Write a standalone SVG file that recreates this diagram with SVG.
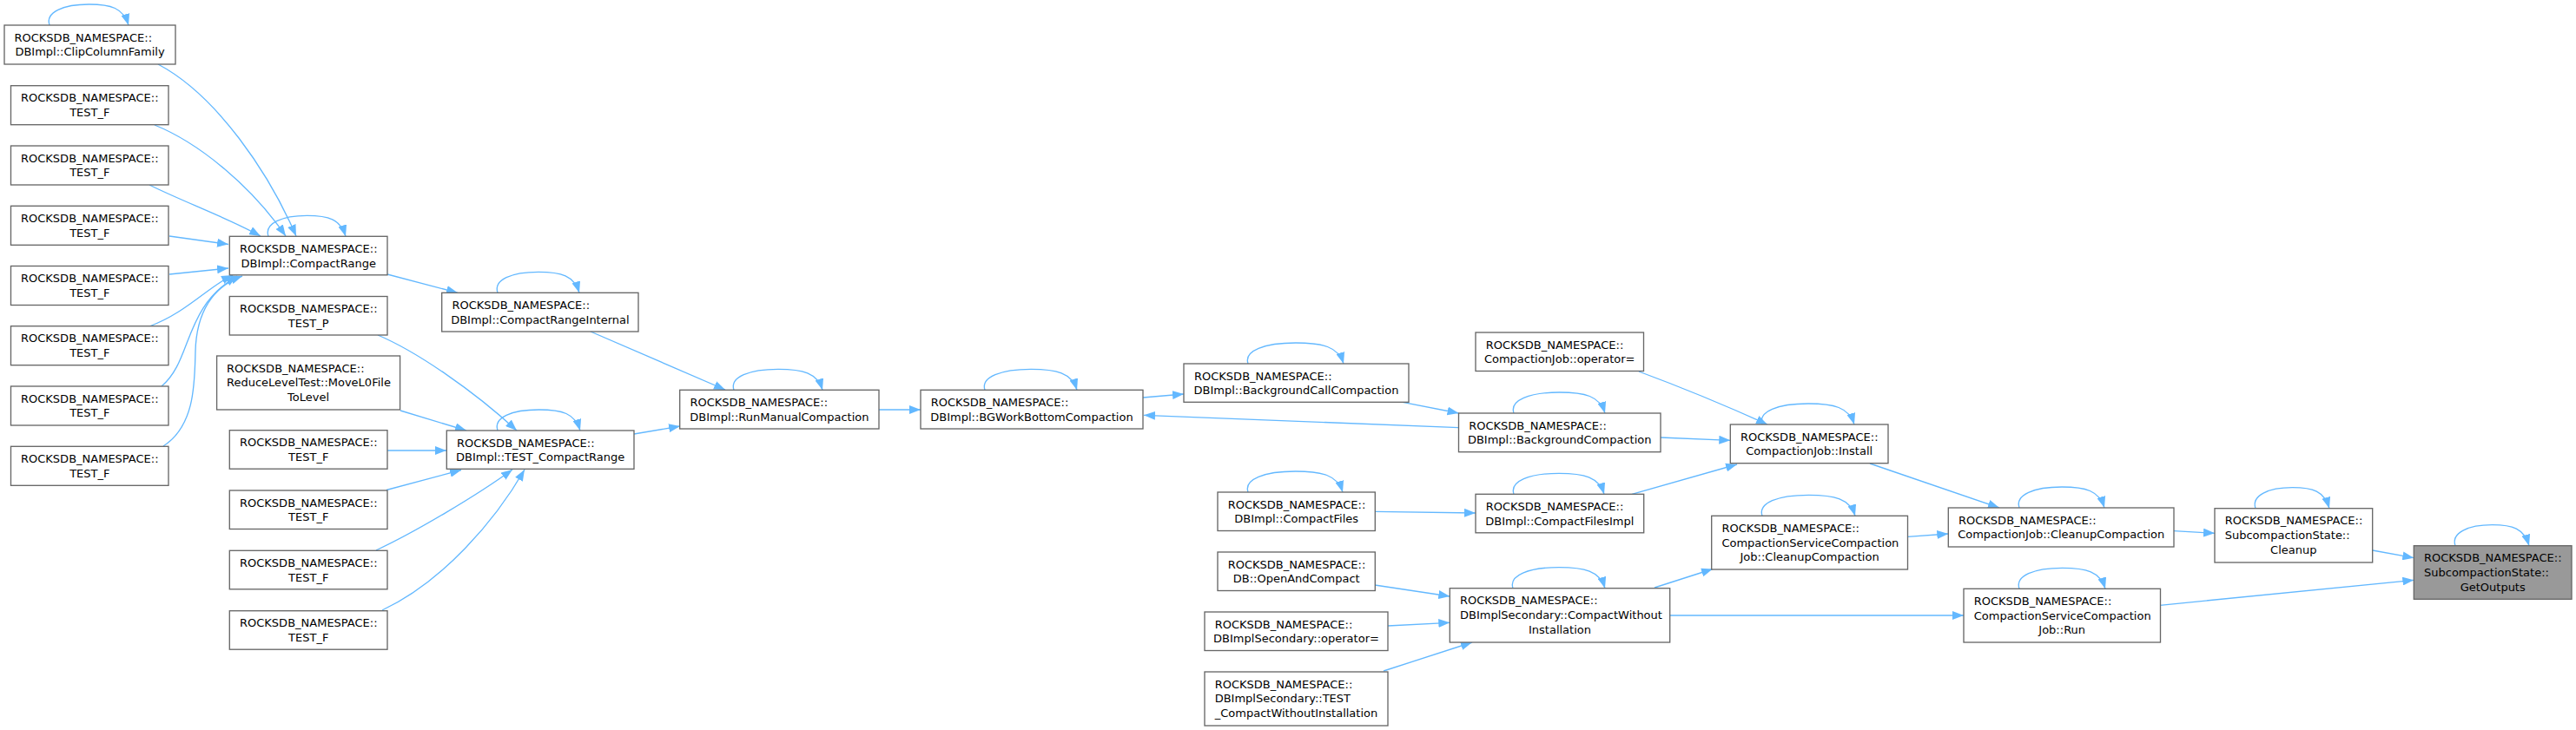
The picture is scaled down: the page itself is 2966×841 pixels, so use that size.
<svg xmlns="http://www.w3.org/2000/svg" width="2966" height="841" viewBox="0 0 2966 841">
<style>
.n rect{fill:#fff;stroke:#666;stroke-width:1.33}
.hl rect{fill:#999}
text{font-family:"DejaVu Sans","Liberation Sans",sans-serif;font-size:13px;fill:#000}
.m{text-anchor:middle}
.e path{fill:none;stroke:#63b8ff;stroke-width:1.33;marker-end:url(#a)}
</style>
<defs>
<marker id="a" markerUnits="userSpaceOnUse" markerWidth="14" markerHeight="10" refX="13" refY="5" orient="auto" viewBox="0 0 14 10"><path d="M0,0 L13,5 L0,10 z" fill="#63b8ff"/></marker>
</defs>
<rect width="2966" height="841" fill="#fff"/>
<g id="edges" class="e">
<path d="M182,74 C250,110 310,200 341,272"/>
<path d="M178,144 C230,165 290,215 329,272"/>
<path d="M172,213 C210,232 260,250 300,272"/>
<path d="M195,272 L263,281.5"/>
<path d="M195,316 L263,309"/>
<path d="M172,376 C215,360 240,330 268,317"/>
<path d="M186,445 C222,415 210,355 273,318"/>
<path d="M188,514 C225,490 224,440 225,405 C226,360 245,330 279,318"/>
<path d="M446,316 L527,337.3"/>
<path d="M680,382 L835,449"/>
<path d="M435,386 C480,405 545,450 595,496"/>
<path d="M461,473 L537,496"/>
<path d="M446,519 L514,519"/>
<path d="M445,564.5 L531,541.5"/>
<path d="M433,634 C480,612 550,570 590,541"/>
<path d="M440,703 C510,670 570,600 604,541"/>
<path d="M730,500 L783,491"/>
<path d="M1012,472 L1060,472"/>
<path d="M1316,458 L1363,454"/>
<path d="M1679.5,492.7 L1317,478.3"/>
<path d="M1615,463.3 L1679.5,476"/>
<path d="M1887,428 Q1960,455 2035,489"/>
<path d="M1912,504 L1992.3,507.3"/>
<path d="M1879,569.3 L2000,535"/>
<path d="M1583,589.3 L1699,591"/>
<path d="M1583,674 L1669.3,687"/>
<path d="M1598,721 L1669.3,717.3"/>
<path d="M1593,773 L1695,740"/>
<path d="M1905,677 L1972,655.5"/>
<path d="M1922.7,709 L2261,709"/>
<path d="M2196.5,618.3 L2243.3,615"/>
<path d="M2153,534 L2302,585"/>
<path d="M2503,611.7 L2550,614.3"/>
<path d="M2731.7,634 L2779.3,642.7"/>
<path d="M2487,697.3 L2779.3,668.3"/>
<path d="M57,29 C52,14 73,5 102.5,5 C127.5,5 142,9 148,29"/>
<path d="M309,272.3 C304,257.3 325,248.3 353.5,248.3 C378,248.3 392,252.3 398,272.3"/>
<path d="M573,337.3 C568,322.3 589,313.3 620,313.3 C646,313.3 661,317.3 667,337.3"/>
<path d="M573,496 C568,481 589,472 620.5,472 C647,472 662,476 668,496"/>
<path d="M845,449.3 C840,434.3 863,425.3 896,425.3 C924,425.3 941,429.3 947,449.3"/>
<path d="M1134,449.3 C1129,434.3 1153,425.3 1187,425.3 C1216,425.3 1234,429.3 1240,449.3"/>
<path d="M1437,419 C1432,404 1456,395 1492,395 C1522,395 1541,399 1547,419"/>
<path d="M1437,567 C1432,552 1456,543 1491.5,543 C1521.5,543 1540,547 1546,567"/>
<path d="M1743,476 C1738,461 1761,452 1795.5,452 C1824.5,452 1842,456 1848,476"/>
<path d="M1743,569.3 C1738,554.3 1761,545.3 1795,545.3 C1823.5,545.3 1841,549.3 1847,569.3"/>
<path d="M1742,677.7 C1737,662.7 1760,653.7 1795,653.7 C1824,653.7 1842,657.7 1848,677.7"/>
<path d="M2029,489 C2024,474 2047,465 2082,465 C2111,465 2129,469 2135,489"/>
<path d="M2029,594.3 C2024,579.3 2047,570.3 2082.5,570.3 C2112,570.3 2130,574.3 2136,594.3"/>
<path d="M2325,585 C2320,570 2342,561 2374,561 C2401,561 2417,565 2423,585"/>
<path d="M2325,678.3 C2320,663.3 2342,654.3 2374.5,654.3 C2402,654.3 2418,658.3 2424,678.3"/>
<path d="M2597,585.7 C2592,570.7 2612,561.7 2639.5,561.7 C2663,561.7 2676,565.7 2682,585.7"/>
<path d="M2827,628.7 C2822,613.7 2842,604.7 2869.5,604.7 C2893,604.7 2906,608.7 2912,628.7"/>
</g>
<g id="clip" class="n"><rect x="5" y="29" width="197" height="45"/><text x="16.5" y="47.7">ROCKSDB_NAMESPACE::</text><text class="m" x="103.5" y="64.3">DBImpl::ClipColumnFamily</text></g>
<g id="tf1" class="n"><rect x="12.5" y="98.7" width="181.5" height="45"/><text x="24" y="117.4">ROCKSDB_NAMESPACE::</text><text class="m" x="103.3" y="134">TEST_F</text></g>
<g id="tf2" class="n"><rect x="12.5" y="168" width="181.5" height="45"/><text x="24" y="186.7">ROCKSDB_NAMESPACE::</text><text class="m" x="103.3" y="203.3">TEST_F</text></g>
<g id="tf3" class="n"><rect x="12.5" y="237.3" width="181.5" height="45"/><text x="24" y="256">ROCKSDB_NAMESPACE::</text><text class="m" x="103.3" y="272.6">TEST_F</text></g>
<g id="tf4" class="n"><rect x="12.5" y="306.5" width="181.5" height="45"/><text x="24" y="325.2">ROCKSDB_NAMESPACE::</text><text class="m" x="103.3" y="341.8">TEST_F</text></g>
<g id="tf5" class="n"><rect x="12.5" y="375.7" width="181.5" height="45"/><text x="24" y="394.4">ROCKSDB_NAMESPACE::</text><text class="m" x="103.3" y="411">TEST_F</text></g>
<g id="tf6" class="n"><rect x="12.5" y="445" width="181.5" height="45"/><text x="24" y="463.7">ROCKSDB_NAMESPACE::</text><text class="m" x="103.3" y="480.3">TEST_F</text></g>
<g id="tf7" class="n"><rect x="12.5" y="514.3" width="181.5" height="45"/><text x="24" y="533">ROCKSDB_NAMESPACE::</text><text class="m" x="103.3" y="549.6">TEST_F</text></g>
<g id="compactrange" class="n"><rect x="264.3" y="272.3" width="181.7" height="44.5"/><text x="276" y="291">ROCKSDB_NAMESPACE::</text><text class="m" x="355.2" y="307.6">DBImpl::CompactRange</text></g>
<g id="testp" class="n"><rect x="264.3" y="341.5" width="181.7" height="44.5"/><text x="276" y="360.2">ROCKSDB_NAMESPACE::</text><text class="m" x="355.2" y="376.8">TEST_P</text></g>
<g id="reducelevel" class="n"><rect x="249.6" y="410" width="211" height="62"/><text x="261" y="428.7">ROCKSDB_NAMESPACE::</text><text x="261" y="445.3">ReduceLevelTest::MoveL0File</text><text class="m" x="355.1" y="462">ToLevel</text></g>
<g id="tfb1" class="n"><rect x="264.3" y="495.7" width="181.7" height="44.5"/><text x="276" y="514.4">ROCKSDB_NAMESPACE::</text><text class="m" x="355.2" y="531">TEST_F</text></g>
<g id="tfb2" class="n"><rect x="264.3" y="565" width="181.7" height="44.5"/><text x="276" y="583.7">ROCKSDB_NAMESPACE::</text><text class="m" x="355.2" y="600.3">TEST_F</text></g>
<g id="tfb3" class="n"><rect x="264.3" y="634.3" width="181.7" height="44.5"/><text x="276" y="653">ROCKSDB_NAMESPACE::</text><text class="m" x="355.2" y="669.6">TEST_F</text></g>
<g id="tfb4" class="n"><rect x="264.3" y="703.7" width="181.7" height="44.5"/><text x="276" y="722.4">ROCKSDB_NAMESPACE::</text><text class="m" x="355.2" y="739">TEST_F</text></g>
<g id="compactrangeinternal" class="n"><rect x="508.7" y="337.3" width="226.3" height="44.7"/><text x="520.5" y="356">ROCKSDB_NAMESPACE::</text><text class="m" x="621.9" y="372.6">DBImpl::CompactRangeInternal</text></g>
<g id="testcompactrange" class="n"><rect x="514.3" y="496" width="215.7" height="44.3"/><text x="526" y="514.7">ROCKSDB_NAMESPACE::</text><text class="m" x="622.2" y="531.3">DBImpl::TEST_CompactRange</text></g>
<g id="runmanual" class="n"><rect x="782.7" y="449.3" width="229.3" height="44.7"/><text x="794.5" y="468">ROCKSDB_NAMESPACE::</text><text class="m" x="897.4" y="484.6">DBImpl::RunManualCompaction</text></g>
<g id="bgworkbottom" class="n"><rect x="1060" y="449.3" width="256" height="44.7"/><text x="1071.7" y="468">ROCKSDB_NAMESPACE::</text><text class="m" x="1188" y="484.6">DBImpl::BGWorkBottomCompaction</text></g>
<g id="bgcall" class="n"><rect x="1363" y="419" width="259" height="44.3"/><text x="1375" y="437.7">ROCKSDB_NAMESPACE::</text><text class="m" x="1492.5" y="454.3">DBImpl::BackgroundCallCompaction</text></g>
<g id="compactfiles" class="n"><rect x="1402" y="567" width="181.3" height="44.5"/><text x="1413.7" y="585.7">ROCKSDB_NAMESPACE::</text><text class="m" x="1492.7" y="602.3">DBImpl::CompactFiles</text></g>
<g id="openandcompact" class="n"><rect x="1402" y="636" width="181.3" height="44.5"/><text x="1413.7" y="654.7">ROCKSDB_NAMESPACE::</text><text class="m" x="1492.7" y="671.3">DB::OpenAndCompact</text></g>
<g id="secop" class="n"><rect x="1387" y="705" width="211" height="44.5"/><text x="1398.7" y="723.7">ROCKSDB_NAMESPACE::</text><text class="m" x="1492.5" y="740.3">DBImplSecondary::operator=</text></g>
<g id="testcwi" class="n"><rect x="1387" y="774" width="211" height="62"/><text x="1398.7" y="792.7">ROCKSDB_NAMESPACE::</text><text x="1398.7" y="809.3">DBImplSecondary::TEST</text><text class="m" x="1492.5" y="826">_CompactWithoutInstallation</text></g>
<g id="cjop" class="n"><rect x="1699" y="383" width="193.5" height="44.5"/><text x="1710.7" y="401.7">ROCKSDB_NAMESPACE::</text><text class="m" x="1795.7" y="418.3">CompactionJob::operator=</text></g>
<g id="bgcompaction" class="n"><rect x="1679.5" y="476" width="232.5" height="44.7"/><text x="1691.2" y="494.7">ROCKSDB_NAMESPACE::</text><text class="m" x="1795.7" y="511.3">DBImpl::BackgroundCompaction</text></g>
<g id="compactfilesimpl" class="n"><rect x="1699" y="569.3" width="193.7" height="44.5"/><text x="1710.7" y="588">ROCKSDB_NAMESPACE::</text><text class="m" x="1795.8" y="604.6">DBImpl::CompactFilesImpl</text></g>
<g id="cwi" class="n"><rect x="1669.3" y="677.7" width="253.4" height="62.3"/><text x="1681" y="696.4">ROCKSDB_NAMESPACE::</text><text x="1681" y="713">DBImplSecondary::CompactWithout</text><text class="m" x="1796" y="729.7">Installation</text></g>
<g id="install" class="n"><rect x="1992.3" y="489" width="181.7" height="44.7"/><text x="2004" y="507.7">ROCKSDB_NAMESPACE::</text><text class="m" x="2083.2" y="524.3">CompactionJob::Install</text></g>
<g id="cscjcleanup" class="n"><rect x="1970.7" y="594.3" width="225.8" height="61.7"/><text x="1982.4" y="613">ROCKSDB_NAMESPACE::</text><text x="1982.4" y="629.6">CompactionServiceCompaction</text><text class="m" x="2083.6" y="646.3">Job::CleanupCompaction</text></g>
<g id="cjcleanup" class="n"><rect x="2243.3" y="585" width="259.7" height="45"/><text x="2255" y="603.7">ROCKSDB_NAMESPACE::</text><text class="m" x="2373.2" y="620.3">CompactionJob::CleanupCompaction</text></g>
<g id="cscjrun" class="n"><rect x="2261" y="678.3" width="226.5" height="61.7"/><text x="2272.7" y="697">ROCKSDB_NAMESPACE::</text><text x="2272.7" y="713.6">CompactionServiceCompaction</text><text class="m" x="2374.2" y="730.3">Job::Run</text></g>
<g id="subcleanup" class="n"><rect x="2550" y="585.7" width="181.7" height="62.3"/><text x="2561.7" y="604.4">ROCKSDB_NAMESPACE::</text><text x="2561.7" y="621">SubcompactionState::</text><text class="m" x="2640.8" y="637.7">Cleanup</text></g>
<g id="getoutputs" class="n hl"><rect x="2779.3" y="628.7" width="181.7" height="61.6"/><text x="2791" y="647.4">ROCKSDB_NAMESPACE::</text><text x="2791" y="664">SubcompactionState::</text><text class="m" x="2870.2" y="680.7">GetOutputs</text></g>
</svg>
